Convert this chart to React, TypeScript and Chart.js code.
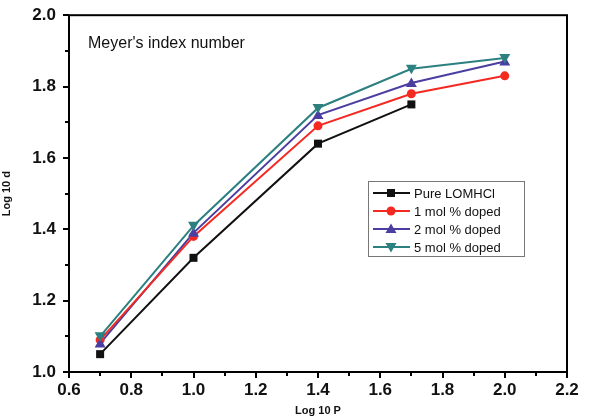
import React, { useEffect, useRef } from "react";
import { Chart, registerables } from "chart.js";

Chart.register(...registerables);

const xPure = [0.7, 1.0, 1.4, 1.7];
const yPure = [1.05, 1.32, 1.64, 1.75];
const xDoped = [0.7, 1.0, 1.4, 1.7, 2.0];
const y1mol = [1.09, 1.38, 1.69, 1.78, 1.83];
const y2mol = [1.08, 1.39, 1.72, 1.81, 1.87];
const y5mol = [1.10, 1.41, 1.74, 1.85, 1.88];
const seriesNames = ["Pure LOMHCl", "1 mol % doped", "2 mol % doped", "5 mol % doped"];
const seriesColors = ["#111111", "#f42a22", "#4a3fa0", "#2c8080"];
const seriesMarkers = ["rect", "circle", "triangle", "triangleDown"];
const xTicks = [0.6, 0.8, 1.0, 1.2, 1.4, 1.6, 1.8, 2.0, 2.2];
const yTicks = [1.0, 1.2, 1.4, 1.6, 1.8, 2.0];
const chartTitle = "Meyer's index number";
const xTitle = "Log 10 P";
const yTitle = "Log 10 d";

function drawMarker(ctx: CanvasRenderingContext2D, kind: string, x: number, y: number, color: string) {
  ctx.save();
  ctx.fillStyle = color;
  ctx.beginPath();
  if (kind === "rect") {
    ctx.rect(x - 4, y - 4, 8, 8);
  } else if (kind === "circle") {
    ctx.arc(x, y, 4.5, 0, Math.PI * 2);
  } else if (kind === "triangle") {
    ctx.moveTo(x, y - 5.5);
    ctx.lineTo(x + 5.5, y + 4);
    ctx.lineTo(x - 5.5, y + 4);
    ctx.closePath();
  } else {
    ctx.moveTo(x, y + 5.5);
    ctx.lineTo(x + 5.5, y - 4);
    ctx.lineTo(x - 5.5, y - 4);
    ctx.closePath();
  }
  ctx.fill();
  ctx.restore();
}

export default function App() {
  const ref = useRef<HTMLCanvasElement | null>(null);
  useEffect(() => {
    document.body.style.margin = "0";
    const canvas = ref.current!;
    const ys = [yPure, y1mol, y2mol, y5mol];
    const datasets = ys.map((vals, i) => {
      const xs = i === 0 ? xPure : xDoped;
      return {
        label: seriesNames[i],
        data: vals.map((v, j) => ({ x: xs[j], y: v })),
        borderColor: seriesColors[i],
        backgroundColor: seriesColors[i],
        borderWidth: 2,
        pointRadius: 0,
        showLine: true,
        tension: 0,
        markerKind: seriesMarkers[i],
      } as any;
    });

    const decor = {
      id: "decor",
      afterDatasetsDraw(chart: any) {
        const ctx = chart.ctx as CanvasRenderingContext2D;
        const xs = chart.scales.x;
        const yS = chart.scales.y;
        const a = chart.chartArea;
        chart.data.datasets.forEach((ds: any) => {
          ds.data.forEach((p: any) => {
            drawMarker(ctx, ds.markerKind, xs.getPixelForValue(p.x), yS.getPixelForValue(p.y), ds.borderColor);
          });
        });
        ctx.save();
        ctx.strokeStyle = "#000";
        ctx.lineWidth = 2;
        ctx.strokeRect(a.left, a.top, a.right - a.left, a.bottom - a.top);
        for (let v = 6; v <= 22; v++) {
          const px = Math.round(xs.getPixelForValue(v / 10));
          const len = v % 2 === 0 ? 6 : 4;
          ctx.beginPath();
          ctx.moveTo(px, a.bottom);
          ctx.lineTo(px, a.bottom + len);
          ctx.stroke();
        }
        for (let v = 10; v <= 20; v++) {
          const py = Math.round(yS.getPixelForValue(v / 10));
          const len = v % 2 === 0 ? 6 : 4;
          ctx.beginPath();
          ctx.moveTo(a.left, py);
          ctx.lineTo(a.left - len, py);
          ctx.stroke();
        }
        ctx.fillStyle = "#111";
        ctx.font = "16px 'Liberation Sans', Arial, sans-serif";
        ctx.textBaseline = "middle";
        ctx.textAlign = "left";
        ctx.fillText(chartTitle, 88, 44);
        const lx = 368, ly = 181, lw = 156, lh = 75;
        ctx.strokeStyle = "#777";
        ctx.lineWidth = 1;
        ctx.strokeRect(lx + 0.5, ly + 0.5, lw, lh);
        ctx.font = "13px 'Liberation Sans', Arial, sans-serif";
        seriesNames.forEach((name, i) => {
          const cy = ly + 12 + i * 18;
          ctx.strokeStyle = seriesColors[i];
          ctx.lineWidth = 2;
          ctx.beginPath();
          ctx.moveTo(lx + 5, cy);
          ctx.lineTo(lx + 42, cy);
          ctx.stroke();
          drawMarker(ctx, seriesMarkers[i], lx + 23, cy, seriesColors[i]);
          ctx.fillStyle = "#111";
          ctx.fillText(name, lx + 46, cy + 1);
        });
        ctx.restore();
      },
    };

    const chart = new Chart(canvas, {
      type: "scatter",
      data: { datasets },
      options: {
        animation: false,
        responsive: false,
        layout: { padding: { top: 11, right: 22, left: 0, bottom: 0 } },
        plugins: { legend: { display: false }, tooltip: { enabled: false } },
        scales: {
          x: {
            type: "linear",
            min: 0.6,
            max: 2.2,
            afterBuildTicks: (s: any) => { s.ticks = xTicks.map((v) => ({ value: v })); },
            afterFit: (s: any) => { s.height = 46; },
            grid: { display: false },
            border: { display: false },
            ticks: {
              color: "#111",
              padding: 0,
              maxRotation: 0,
              font: { family: "'Liberation Sans', Arial, sans-serif", size: 17, weight: "bold" },
              callback: (v: any) => Number(v).toFixed(1),
            },
            title: {
              display: true,
              text: xTitle,
              color: "#111",
              padding: { top: 0, bottom: 0 },
              font: { family: "'Liberation Sans', Arial, sans-serif", size: 11, weight: "bold" },
            },
          },
          y: {
            type: "linear",
            min: 1.0,
            max: 2.0,
            afterBuildTicks: (s: any) => { s.ticks = yTicks.map((v) => ({ value: v })); },
            afterFit: (s: any) => { s.width = 69; },
            grid: { display: false },
            border: { display: false },
            ticks: {
              color: "#111",
              padding: 5,
              font: { family: "'Liberation Sans', Arial, sans-serif", size: 17, weight: "bold" },
              callback: (v: any) => Number(v).toFixed(1),
            },
            title: {
              display: true,
              text: yTitle,
              color: "#111",
              padding: { top: 0, bottom: 4 },
              font: { family: "'Liberation Sans', Arial, sans-serif", size: 11, weight: "bold" },
            },
          },
        },
      },
      plugins: [decor],
    });
    return () => chart.destroy();
  }, []);
  return (
    <div style={{ width: 589, height: 418, background: "#fff" }}>
      <canvas ref={ref} width={589} height={418} style={{ display: "block" }} />
    </div>
  );
}
